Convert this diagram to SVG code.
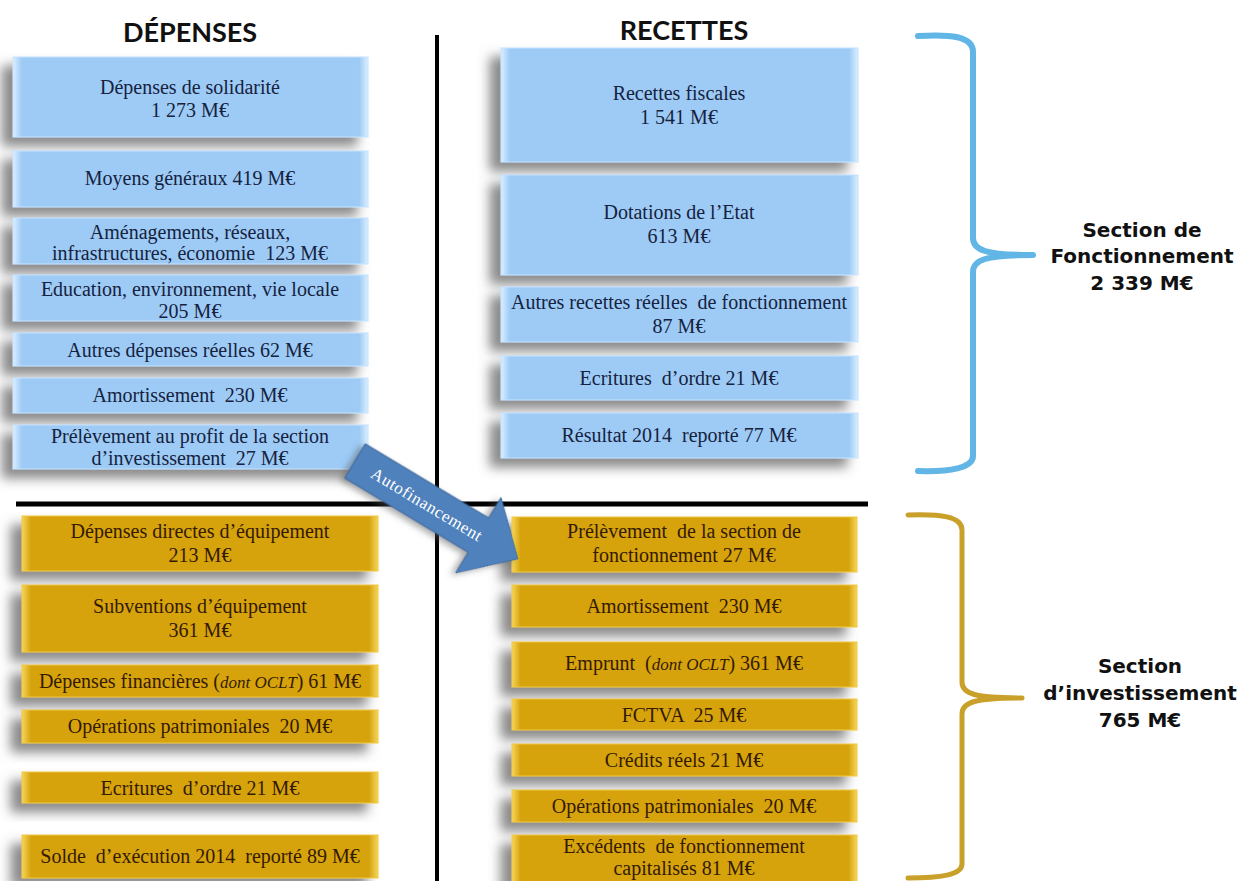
<svg xmlns="http://www.w3.org/2000/svg" width="1243" height="881" viewBox="0 0 1243 881">
<defs>
<linearGradient id="gb" x1="0" y1="0" x2="1" y2="0">
<stop offset="0" stop-color="#dcefff"/><stop offset="0.025" stop-color="#9dcbf6"/><stop offset="0.975" stop-color="#9dcbf6"/><stop offset="1" stop-color="#dcefff"/>
</linearGradient>
<linearGradient id="gg" x1="0" y1="0" x2="1" y2="0">
<stop offset="0" stop-color="#f6d65a"/><stop offset="0.025" stop-color="#d6a30f"/><stop offset="0.975" stop-color="#d6a30f"/><stop offset="1" stop-color="#f6d65a"/>
</linearGradient>
<filter id="sh" x="-20%" y="-40%" width="140%" height="200%">
<feGaussianBlur in="SourceAlpha" stdDeviation="6"/>
<feOffset dx="-11" dy="9" result="b"/>
<feFlood flood-color="#6e6e6e" flood-opacity="0.8"/>
<feComposite in2="b" operator="in"/>
<feMerge><feMergeNode/><feMergeNode in="SourceGraphic"/></feMerge>
</filter>
<filter id="ash" x="-20%" y="-40%" width="140%" height="200%">
<feGaussianBlur in="SourceAlpha" stdDeviation="3"/>
<feOffset dx="-3" dy="4" result="b"/>
<feFlood flood-color="#555" flood-opacity="0.5"/>
<feComposite in2="b" operator="in"/>
<feMerge><feMergeNode/><feMergeNode in="SourceGraphic"/></feMerge>
</filter>
</defs>
<style>
.b{fill:url(#gb);stroke:#c4e2ff;stroke-width:1;filter:url(#sh)}
.g{fill:url(#gg);stroke:#f0c840;stroke-width:1;filter:url(#sh)}
.tb{font-family:'Liberation Serif',serif;font-size:20px;fill:#16223e;text-anchor:middle}
.tg{font-family:'Liberation Serif',serif;font-size:20px;fill:#341a00;text-anchor:middle}
.h{font-family:Lato,'Liberation Sans',sans-serif;font-weight:bold;font-size:27px;fill:#111;text-anchor:middle}
.s{font-family:'DejaVu Sans',sans-serif;font-weight:bold;font-size:20px;fill:#111;text-anchor:middle}
</style>
<rect width="1243" height="881" fill="#fff"/>

<g id="headers">
<text class="h" x="190" y="42">DÉPENSES</text>
<text class="h" x="684" y="40">RECETTES</text>
</g>

<g id="dividers" stroke="#000" fill="none">
<line x1="437" y1="35" x2="437" y2="881" stroke-width="4"/>
<line x1="16" y1="504" x2="868" y2="504" stroke-width="5"/>
</g>

<g id="L1"><rect class="b" x="13" y="57" width="355" height="80"/><text class="tb" x="190" y="94">Dépenses de solidarité</text><text class="tb" x="190" y="117">1 273 M€</text></g>
<g id="L2"><rect class="b" x="13" y="151" width="355" height="56"/><text class="tb" x="190" y="185">Moyens généraux 419 M€</text></g>
<g id="L3"><rect class="b" x="13" y="218" width="355" height="46"/><text class="tb" x="190" y="239">Aménagements, réseaux,</text><text class="tb" x="190" y="260" xml:space="preserve">infrastructures, économie  123 M€</text></g>
<g id="L4"><rect class="b" x="13" y="275" width="355" height="46"/><text class="tb" x="190" y="296">Education, environnement, vie locale</text><text class="tb" x="190" y="318">205 M€</text></g>
<g id="L5"><rect class="b" x="13" y="333" width="355" height="33"/><text class="tb" x="190" y="357">Autres dépenses réelles 62 M€</text></g>
<g id="L6"><rect class="b" x="13" y="378" width="355" height="35"/><text class="tb" x="190" y="402" xml:space="preserve">Amortissement  230 M€</text></g>
<g id="L7"><rect class="b" x="13" y="425" width="355" height="44"/><text class="tb" x="190" y="443">Prélèvement au profit de la section</text><text class="tb" x="190" y="465" xml:space="preserve">d’investissement  27 M€</text></g>

<g id="R1"><rect class="b" x="501" y="48" width="357" height="114"/><text class="tb" x="679" y="100">Recettes fiscales</text><text class="tb" x="679" y="124">1 541 M€</text></g>
<g id="R2"><rect class="b" x="501" y="175" width="357" height="100"/><text class="tb" x="679" y="219">Dotations de l’Etat</text><text class="tb" x="679" y="243">613 M€</text></g>
<g id="R3"><rect class="b" x="501" y="287" width="357" height="55"/><text class="tb" x="679" y="309" xml:space="preserve">Autres recettes réelles  de fonctionnement</text><text class="tb" x="679" y="333">87 M€</text></g>
<g id="R4"><rect class="b" x="501" y="356" width="357" height="44"/><text class="tb" x="679" y="385" xml:space="preserve">Ecritures  d’ordre 21 M€</text></g>
<g id="R5"><rect class="b" x="501" y="413" width="357" height="45"/><text class="tb" x="679" y="442" xml:space="preserve">Résultat 2014  reporté 77 M€</text></g>

<g id="L8"><rect class="g" x="22" y="516" width="356" height="55"/><text class="tg" x="200" y="538">Dépenses directes d’équipement</text><text class="tg" x="200" y="562">213 M€</text></g>
<g id="L9"><rect class="g" x="22" y="585" width="356" height="67"/><text class="tg" x="200" y="613">Subventions d’équipement</text><text class="tg" x="200" y="637">361 M€</text></g>
<g id="L10"><rect class="g" x="22" y="665" width="356" height="32"/><text class="tg" x="200" y="688">Dépenses financières (<tspan font-style="italic" font-size="17px">dont OCLT</tspan>) 61 M€</text></g>
<g id="L11"><rect class="g" x="22" y="710" width="356" height="33"/><text class="tg" x="200" y="733" xml:space="preserve">Opérations patrimoniales  20 M€</text></g>
<g id="L12"><rect class="g" x="22" y="772" width="356" height="31"/><text class="tg" x="200" y="795" xml:space="preserve">Ecritures  d’ordre 21 M€</text></g>
<g id="L13"><rect class="g" x="22" y="835" width="356" height="43"/><text class="tg" x="200" y="863" xml:space="preserve">Solde  d’exécution 2014  reporté 89 M€</text></g>

<g id="R6"><rect class="g" x="512" y="517" width="345" height="55"/><text class="tg" x="684" y="538" xml:space="preserve">Prélèvement  de la section de</text><text class="tg" x="684" y="562">fonctionnement 27 M€</text></g>
<g id="R7"><rect class="g" x="512" y="585" width="345" height="42"/><text class="tg" x="684" y="613" xml:space="preserve">Amortissement  230 M€</text></g>
<g id="R8"><rect class="g" x="512" y="642" width="345" height="45"/><text class="tg" x="684" y="670" xml:space="preserve">Emprunt  (<tspan font-style="italic" font-size="17px">dont OCLT</tspan>) 361 M€</text></g>
<g id="R9"><rect class="g" x="512" y="699" width="345" height="31"/><text class="tg" x="684" y="722" xml:space="preserve">FCTVA  25 M€</text></g>
<g id="R10"><rect class="g" x="512" y="744" width="345" height="32"/><text class="tg" x="684" y="767">Crédits réels 21 M€</text></g>
<g id="R11"><rect class="g" x="512" y="790" width="345" height="32"/><text class="tg" x="684" y="813" xml:space="preserve">Opérations patrimoniales  20 M€</text></g>
<g id="R12"><rect class="g" x="512" y="835" width="345" height="48"/><text class="tg" x="684" y="853" xml:space="preserve">Excédents  de fonctionnement</text><text class="tg" x="684" y="875">capitalisés 81 M€</text></g>

<g id="connectors">
<g id="autofinancement" transform="translate(355,461) rotate(31)">
<path d="M0,-20 L144,-20 L144,-44 L190,0 L144,44 L144,20 L0,20 Z" fill="#4f81bd" stroke="#3b6699" stroke-width="1" filter="url(#ash)"/>
<text x="84" y="6" font-family="Liberation Serif,serif" font-size="17px" letter-spacing="0.6" fill="#fff" text-anchor="middle">Autofinancement</text>
</g>
<path id="brace-fonct" d="M918,36 C950,34 973,36 973,52 L973,238 C973,250 985,255 1033,255 M1033,255 C985,255 973,260 973,272 L973,456 C973,468 950,472 918,471" fill="none" stroke="#62b6e6" stroke-width="6" stroke-linecap="round"/>
<path id="brace-invest" d="M908,515 C940,514 962,516 962,530 L962,682 C962,694 975,698 1022,698 M1022,698 C975,698 962,702 962,714 L962,864 C962,875 940,878 908,878" fill="none" stroke="#c9a02a" stroke-width="5" stroke-linecap="round"/>
</g>

<g id="label-fonct">
<text class="s" x="1142" y="237">Section de</text>
<text class="s" x="1142" y="263">Fonctionnement</text>
<text class="s" x="1142" y="290">2 339 M€</text>
</g>
<g id="label-invest">
<text class="s" x="1140" y="673">Section</text>
<text class="s" x="1140" y="700">d’investissement</text>
<text class="s" x="1140" y="727">765 M€</text>
</g>
</svg>
